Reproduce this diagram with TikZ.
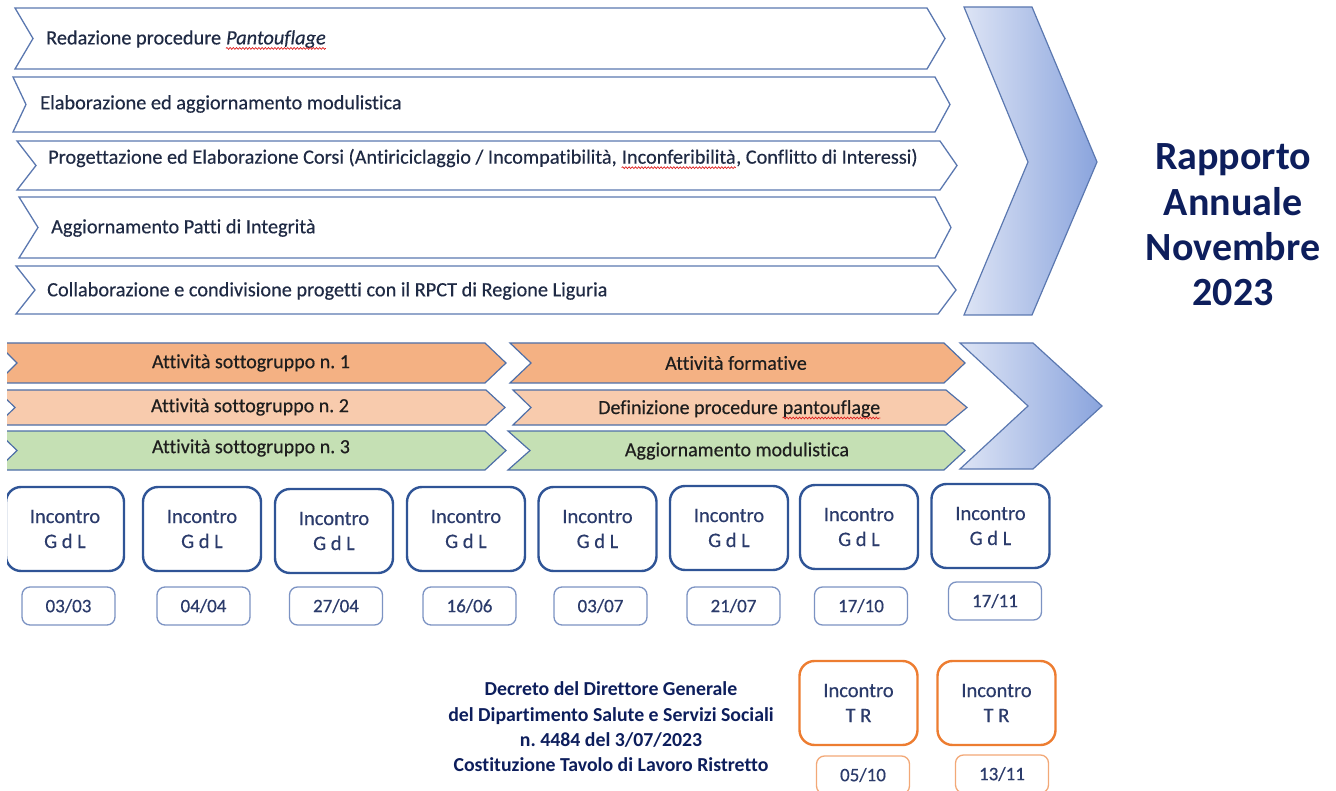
\documentclass[tikz,border=0pt]{standalone}
\usepackage{fontspec}
\setmainfont{Carlito}[Ligatures=NoCommon, FakeBold=0.35, BoldFeatures={FakeBold=0}, ItalicFeatures={FakeBold=0.35}]
\usetikzlibrary{decorations.pathmorphing}
\frenchspacing
\definecolor{chevline}{HTML}{5B78B0}
\definecolor{toptext}{HTML}{1F2A44}
\definecolor{orgA}{HTML}{F4B183}
\definecolor{orgB}{HTML}{F8CBAD}
\definecolor{grnC}{HTML}{C5E0B4}
\definecolor{midline}{HTML}{4E6FA8}
\definecolor{midtext}{HTML}{1E1E1E}
\definecolor{blueL}{HTML}{DDE4F5}
\definecolor{blueR}{HTML}{8AA4DD}
\definecolor{gdlline}{HTML}{2F5496}
\definecolor{dateline}{HTML}{7C93C3}
\definecolor{navytext}{HTML}{0D1E5C}
\definecolor{boxtext}{HTML}{2B3B6B}
\definecolor{trline}{HTML}{ED7D31}
\definecolor{trdate}{HTML}{F2A877}
\definecolor{squig}{HTML}{E02020}
\newcommand\mychev[7]{% left, top, bottom, notch, corner, tip, style
  \path[#7] (#1,#2) -- (#5,#2) -- (#6,{(#2+#3)/2}) -- (#5,#3) -- (#1,#3) -- (#4,{(#2+#3)/2}) -- cycle;}
\tikzset{
  topchev/.style={draw=chevline, line width=1.3pt, fill=white, line join=miter},
  midchev/.style={draw=midline, line width=1.2pt, line join=miter},
  bigchev/.style={draw=chevline, line width=1.2pt, left color=blueL, right color=blueR},
  toplabel/.style={anchor=west, inner sep=0pt, text=toptext, font=\fontsize{20.3}{24}\selectfont},
  toppart/.style={anchor=base west, inner sep=0pt, text=toptext, font=\fontsize{20.3}{24}\selectfont},
  midlabel/.style={inner sep=0pt, text=midtext, font=\fontsize{20}{24}\selectfont},
  midpart/.style={anchor=base west, inner sep=0pt, text=midtext, font=\fontsize{20}{24}\selectfont},
  squiggle/.style={draw=squig, line width=0.7pt, decorate, decoration={snake, amplitude=0.9pt, segment length=3.2pt}},
  gdlbox/.style={draw=gdlline, line width=2.4pt, rounded corners=15pt, fill=white,
    minimum width=118pt, minimum height=84pt, align=center, text=boxtext,
    font=\fontsize{20.5}{25}\selectfont, inner sep=0pt},
  datebox/.style={draw=dateline, line width=1.3pt, rounded corners=8pt, fill=white,
    minimum width=93pt, minimum height=38pt, text=boxtext,
    font=\fontsize{19}{22}\selectfont, inner sep=0pt},
  trbox/.style={gdlbox, draw=trline},
  trdatebox/.style={datebox, draw=trdate},
}
\begin{document}
\begin{tikzpicture}[x=1pt,y=-1pt]
\useasboundingbox (0,0) rectangle (1336,791);
\begin{scope}
\clip (7,0) rectangle (1336,791);
% top chevrons
\mychev{15}{8}{69}{33}{927}{945}{topchev}
\mychev{13}{77}{132}{26}{935}{950}{topchev}
\mychev{17}{141}{190}{36}{940}{957}{topchev}
\mychev{19}{197}{258}{38}{935}{951}{topchev}
\mychev{16}{266}{314}{35}{938}{956}{topchev}
\node[toplabel] (t1) at (46,39) {Redazione procedure};
\node[toppart, xshift=4.6pt] (t1w) at (t1.base east) {\textit{Pantouflage}};
\draw[squiggle] ([yshift=-4pt]t1w.base west) -- ([yshift=-4pt]t1w.base east);
\node[toplabel] (t2) at (40,104) {Elaborazione ed aggiornamento modulistica};
\node[toplabel] (t3) at (48,158) {Progettazione ed Elaborazione Corsi (Antiriciclaggio / Incompatibilità,};
\node[toppart, xshift=4.6pt] (t3w) at (t3.base east) {Inconferibilità};
\node[toppart] (t3e) at (t3w.base east) {, Conflitto di Interessi)};
\draw[squiggle] ([yshift=-4pt]t3w.base west) -- ([yshift=-4pt]t3w.base east);
\node[toplabel] (t4) at (51,228) {Aggiornamento Patti di Integrità};
\node[toplabel] (t5) at (47,291) {Collaborazione e condivisione progetti con il RPCT di Regione Liguria};
% big chevron
\path[bigchev] (964,7) -- (1032,7) -- (1097,162) -- (1032,315) -- (964,315) -- (1028,162) -- cycle;
\node[inner sep=0pt, align=center, text=navytext, font=\fontsize{40}{45.3}\selectfont\bfseries] (rapporto) at (1233,225) {Rapporto\\Annuale\\Novembre\\2023};
% middle rows
\mychev{-3}{343}{383}{17}{485}{506}{midchev, fill=orgA}
\mychev{510}{343}{383}{531}{944}{965}{midchev, fill=orgA}
\mychev{-3}{390}{425}{15}{486}{505}{midchev, fill=orgB}
\mychev{513}{390}{425}{531}{946}{967}{midchev, fill=orgB}
\mychev{-3}{431}{470}{17}{485}{506}{midchev, fill=grnC}
\mychev{508}{431}{470}{530}{944}{965}{midchev, fill=grnC}
\path[bigchev] (960,343) -- (1033,343) -- (1102,406) -- (1033,469) -- (960,469) -- (1028,406) -- cycle;
\node[midlabel] (s1) at (251,363) {Attività sottogruppo n. 1};
\node[midlabel] (s2) at (250,407) {Attività sottogruppo n. 2};
\node[midlabel] (s3) at (251,448) {Attività sottogruppo n. 3};
\node[midlabel] (f1) at (736,363) {Attività formative};
\node[midpart] (f2) at (598,414) {Definizione procedure};
\node[midpart, xshift=4.5pt] (f2w) at (f2.base east) {pantouflage};
\draw[squiggle] ([yshift=-4pt]f2w.base west) -- ([yshift=-4pt]f2w.base east);
\node[midlabel] (f3) at (737,451) {Aggiornamento modulistica};
% incontri GdL
\node[gdlbox] (g1) at (65,529) {Incontro\\G d L};
\node[gdlbox] (g2) at (202,529) {Incontro\\G d L};
\node[gdlbox] (g3) at (334,531) {Incontro\\G d L};
\node[gdlbox] (g4) at (466,529) {Incontro\\G d L};
\node[gdlbox] (g5) at (597.5,529) {Incontro\\G d L};
\node[gdlbox] (g6) at (729,528) {Incontro\\G d L};
\node[gdlbox] (g7) at (859,527) {Incontro\\G d L};
\node[gdlbox] (g8) at (990.5,526) {Incontro\\G d L};
\node[datebox] (d1) at (68.5,606) {03/03};
\node[datebox] (d2) at (203.5,606) {04/04};
\node[datebox] (d3) at (336,606) {27/04};
\node[datebox] (d4) at (469.5,606) {16/06};
\node[datebox] (d5) at (600.5,606) {03/07};
\node[datebox] (d6) at (733.5,606) {21/07};
\node[datebox] (d7) at (861,606) {17/10};
\node[datebox] (d8) at (995,601) {17/11};
% tavolo ristretto
\node[inner sep=0pt, align=center, text=navytext, font=\fontsize{19.8}{25.3}\selectfont\bfseries] (decreto) at (611,727) {Decreto del Direttore Generale\\del Dipartimento Salute e Servizi Sociali\\n. 4484 del 3/07/2023\\Costituzione Tavolo di Lavoro Ristretto};
\node[trbox] (tr1) at (858.5,703) {Incontro\\T R};
\node[trbox] (tr2) at (996.5,703) {Incontro\\T R};
\node[trdatebox] (td1) at (863,775) {05/10};
\node[trdatebox] (td2) at (1002,774) {13/11};
\end{scope}
\end{tikzpicture}
\end{document}
